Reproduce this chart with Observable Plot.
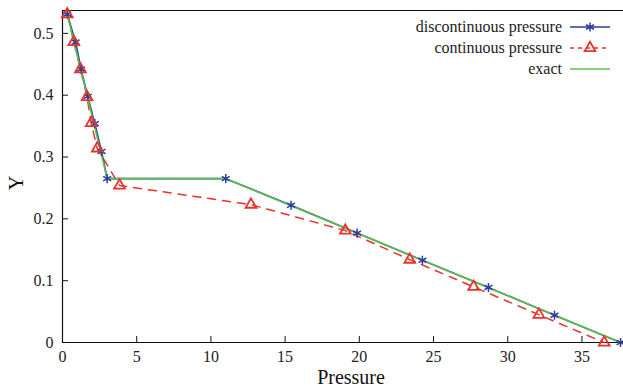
<!DOCTYPE html>
<html>
<head>
<meta charset="utf-8">
<script src="https://cdn.jsdelivr.net/npm/d3@7"></script>
<script src="https://cdn.jsdelivr.net/npm/@observablehq/plot@0.6"></script>
<style>
  html, body { margin: 0; padding: 0; background: #fff; }
  #wrap { position: relative; width: 623px; height: 388px; font-family: "Liberation Serif", serif; }
  #wrap svg text { font-family: "Liberation Serif", serif; }
  #legend { position: absolute; left: 0; top: 0; }
</style>
</head>
<body>
<div id="wrap"></div>
<script>
// Discontinuous pressure (blue stars)
const discX = [0.32, 0.88, 1.25, 1.70, 2.18, 2.63, 3.01, 11.0, 15.4, 19.85, 24.25, 28.7, 33.15, 37.6];
const discY = [0.531, 0.486, 0.442, 0.398, 0.354, 0.309, 0.265, 0.265, 0.222, 0.177, 0.133, 0.089, 0.044, 0.0];
// Continuous pressure (red triangles)
const contX = [0.32, 0.76, 1.21, 1.66, 1.93, 2.34, 3.84, 12.7, 19.06, 23.4, 27.7, 32.1, 36.5];
const contY = [0.531, 0.486, 0.442, 0.397, 0.355, 0.314, 0.254, 0.223, 0.181, 0.134, 0.090, 0.045, 0.0];
// Exact solution (green)
const exactX = [0.32, 3.01, 11.0, 37.6];
const exactY = [0.531, 0.265, 0.265, 0.0];

const xTicks = [0, 5, 10, 15, 20, 25, 30, 35];
const yTicks = [0, 0.1, 0.2, 0.3, 0.4, 0.5];
const xDomain = [0, 37.8];
const yDomain = [0, 0.537];

const legendLabels = ["discontinuous pressure", "continuous pressure", "exact"];

const BLUE = "#2b3d9e", RED = "#e8322b", GREEN = "#5cc14b";
const disc = discX.map((x, i) => ({x, y: discY[i]}));
const cont = contX.map((x, i) => ({x, y: contY[i]}));
const exact = exactX.map((x, i) => ({x, y: exactY[i]}));

const chart = Plot.plot({
  width: 623,
  height: 388,
  marginLeft: 62,
  marginRight: 0,
  marginTop: 10,
  marginBottom: 46,
  style: {fontFamily: "'Liberation Serif', serif", fontSize: "16px", color: "#222", background: "#fff"},
  x: {domain: xDomain},
  y: {domain: yDomain},
  marks: [
    Plot.ruleY([yDomain[1]], {stroke: "#111", strokeWidth: 1.2}),
    Plot.ruleY([0], {stroke: "#111", strokeWidth: 1.2}),
    Plot.ruleX([0], {stroke: "#111", strokeWidth: 1.2}),
    Plot.axisX({ticks: xTicks, tickSize: -6, tickPadding: 14, label: null, fontSize: 16, stroke: "#111"}),
    Plot.axisY({ticks: yTicks, tickSize: -6, tickPadding: 15, label: null, fontSize: 16, tickFormat: d => d === 0 ? "0" : d3.format(".1f")(d), stroke: "#111"}),
    Plot.line(cont, {x: "x", y: "y", stroke: RED, strokeWidth: 1.5, strokeDasharray: "8,7"}),
    Plot.line(disc, {x: "x", y: "y", stroke: BLUE, strokeWidth: 1.6}),
    Plot.line(exact, {x: "x", y: "y", stroke: GREEN, strokeWidth: 1.6}),
    Plot.dot(disc, {x: "x", y: "y", symbol: "asterisk", r: 4.3, stroke: BLUE, strokeWidth: 1.5}),
    Plot.dot(cont, {x: "x", y: "y", symbol: "triangle", r: 4, stroke: RED, fill: "none", strokeWidth: 1.8}),
    Plot.text(["Pressure"], {frameAnchor: "bottom", lineAnchor: "middle", textAnchor: "middle", dy: 35, dx: 8, fontSize: 20, fill: "#111"}),
    Plot.text(["Y"], {frameAnchor: "left", lineAnchor: "middle", textAnchor: "middle", dx: -46, dy: 6.5, rotate: -90, fontSize: 20, fill: "#111"})
  ]
});

const wrap = document.getElementById("wrap");
wrap.appendChild(chart);

// Legend overlay
const lg = d3.select(wrap).append("svg").attr("id", "legend")
  .attr("width", 623).attr("height", 90)
  .style("font-family", "'Liberation Serif', serif");
const rows = [
  {label: legendLabels[0], stroke: BLUE, dash: null, sym: d3.symbolAsterisk, size: 57, fill: "none", sw: 1.5},
  {label: legendLabels[1], stroke: RED, dash: "4,4", sym: d3.symbolTriangle, size: 50, fill: "none", sw: 1.8},
  {label: legendLabels[2], stroke: GREEN, dash: null, sym: null}
];
rows.forEach((r, i) => {
  const cy = 27 + i * 21;
  lg.append("text").attr("x", 562).attr("y", cy).attr("dy", "0.32em")
    .attr("text-anchor", "end").attr("font-size", 16).attr("fill", "#222").text(r.label);
  lg.append("line").attr("x1", 570).attr("x2", 610).attr("y1", cy).attr("y2", cy)
    .attr("stroke", r.stroke).attr("stroke-width", 1.6).attr("stroke-dasharray", r.dash);
  if (r.sym) {
    lg.append("path").attr("d", d3.symbol(r.sym, r.size)())
      .attr("transform", `translate(590,${cy})`)
      .attr("stroke", r.stroke).attr("fill", r.fill).attr("stroke-width", r.sw);
  }
});
</script>
</body>
</html>
